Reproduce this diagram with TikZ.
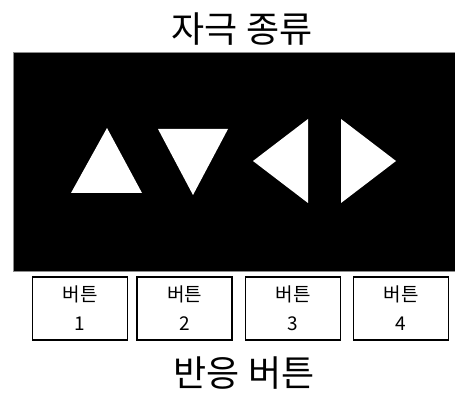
\documentclass[tikz,border=0pt]{standalone}
\usepackage{fontspec}
\setmainfont{Noto Sans CJK KR}
\begin{document}
\begin{tikzpicture}[x=1pt,y=-1pt,
  btn/.style={draw=black,line width=1.3pt,fill=white,minimum width=95pt,minimum height=63pt,inner sep=0pt,align=center,font=\fontsize{19}{29}\selectfont},
  title/.style={font=\fontsize{36}{40}\selectfont,inner sep=0pt},
  tri/.style={fill=white}]
\useasboundingbox (0,0) rectangle (455,398);
\fill[white] (0,0) rectangle (455,398);
\node[title] (t) at (242,29) {자극 종류};
\draw[fill=black,draw=black!45,line width=0.6pt] (13,52) rectangle (456,271);
\fill[tri] (107,128) -- (142,193) -- (71,193) -- cycle;
\fill[tri] (158,129) -- (228,129) -- (193,195) -- cycle;
\fill[tri] (253,161) -- (308,119) -- (308,203) -- cycle;
\fill[tri] (341,119) -- (396,161) -- (341,203) -- cycle;
\node[btn] (b1) at (80,308.5) {버튼\\1};
\node[btn] (b2) at (184.5,308.5) {버튼\\2};
\node[btn] (b3) at (293,308.5) {버튼\\3};
\node[btn] (b4) at (401,308.5) {버튼\\4};
\node[title] (r) at (244,373) {반응 버튼};
\end{tikzpicture}
\end{document}
